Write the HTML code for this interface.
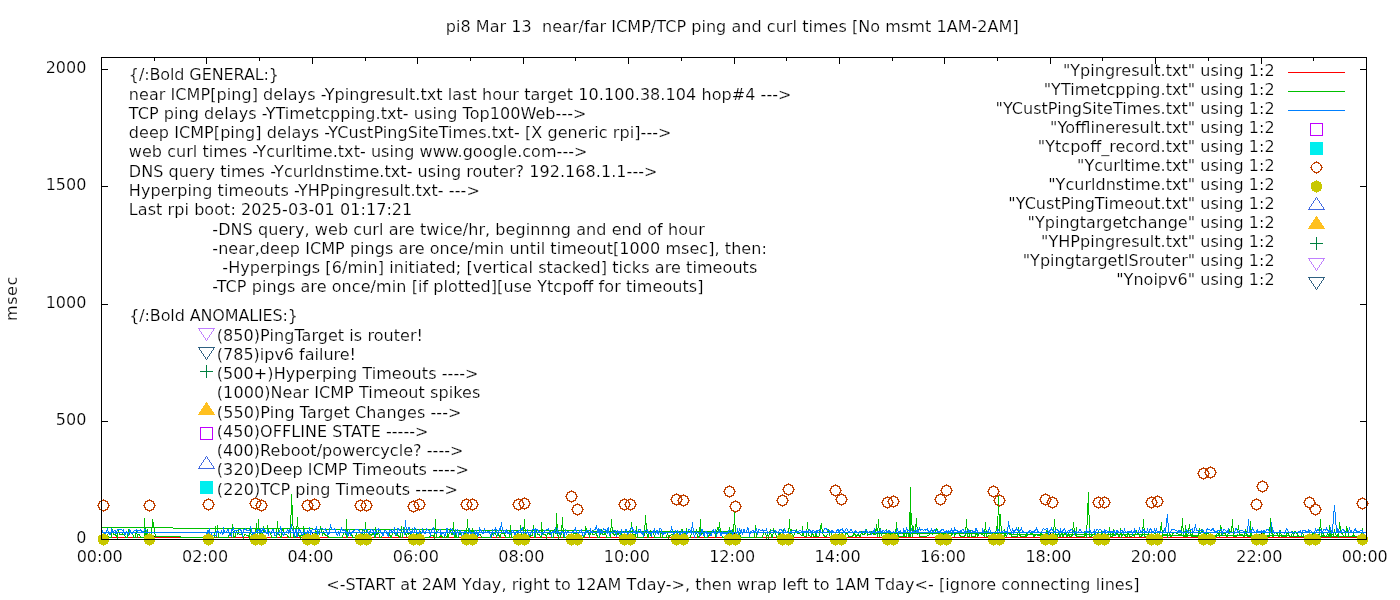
<!DOCTYPE html><html><head><meta charset="utf-8"><title>pi8 plot</title>
<style>html,body{margin:0;padding:0;background:#fff;overflow:hidden}svg{display:block}text{font-family:"DejaVu Sans","Liberation Sans",sans-serif;font-size:16px;white-space:pre;fill:#000;stroke:#fff;stroke-width:0.2px;paint-order:fill stroke}</style></head><body>
<svg width="1400" height="600" viewBox="0 0 1400 600">
<rect width="1400" height="600" fill="#fff"/>
<g id="ticks" stroke="#000" stroke-width="1" fill="none" shape-rendering="crispEdges">
<path d="M101 421.5h7M1366 421.5h-6"/>
<path d="M101 304.5h7M1366 304.5h-6"/>
<path d="M101 186.5h7M1366 186.5h-6"/>
<path d="M101 69.5h7M1366 69.5h-6"/>
<path d="M154.5 57v4 M154.5 539v-3"/>
<path d="M206.5 57v7 M206.5 539v-6"/>
<path d="M259.5 57v4 M259.5 539v-3"/>
<path d="M312.5 57v7 M312.5 539v-6"/>
<path d="M365.5 57v4 M365.5 539v-3"/>
<path d="M417.5 57v7 M417.5 539v-6"/>
<path d="M470.5 57v4 M470.5 539v-3"/>
<path d="M523.5 57v7 M523.5 539v-6"/>
<path d="M575.5 57v4 M575.5 539v-3"/>
<path d="M628.5 57v7 M628.5 539v-6"/>
<path d="M681.5 57v4 M681.5 539v-3"/>
<path d="M734.5 57v7 M734.5 539v-6"/>
<path d="M786.5 57v4 M786.5 539v-3"/>
<path d="M839.5 57v7 M839.5 539v-6"/>
<path d="M892.5 57v4 M892.5 539v-3"/>
<path d="M944.5 57v7 M944.5 539v-6"/>
<path d="M997.5 57v4 M997.5 539v-3"/>
<path d="M1050.5 57v7 M1050.5 539v-6"/>
<path d="M1102.5 57v4 M1102.5 539v-3"/>
<path d="M1155.5 57v7 M1155.5 539v-6"/>
<path d="M1208.5 57v4 M1208.5 539v-3"/>
<path d="M1261.5 57v7 M1261.5 539v-6"/>
<path d="M1313.5 57v4 M1313.5 539v-3"/>
</g>
<g id="data">
<path d="M101 537.5H1366" stroke="#ff0000" stroke-width="1" fill="none" shape-rendering="crispEdges"/>
<polyline fill="none" stroke="#00c000" stroke-width="1" shape-rendering="crispEdges" points="101.5,527.5 101.5,535.5 102.5,535.5 103.5,535.5 104.5,537.5 105.5,537.5 106.5,537.5 107.5,535.5 108.5,537.5 108.5,537.5 109.5,537.5 110.5,537.5 111.5,537.5 112.5,529.5 113.5,534.5 114.5,534.5 115.5,534.5 115.5,535.5 116.5,535.5 117.5,537.5 118.5,529.5 119.5,534.5 120.5,534.5 121.5,534.5 122.5,533.5 122.5,534.5 123.5,534.5 124.5,534.5 125.5,537.5 126.5,537.5 127.5,537.5 128.5,529.5 129.5,534.5 129.5,532.5 130.5,532.5 131.5,532.5 132.5,532.5 133.5,537.5 134.5,537.5 135.5,537.5 136.5,529.5 137.5,537.5 137.5,534.5 138.5,534.5 139.5,534.5 140.5,537.5 141.5,537.5 142.5,537.5 143.5,537.5 144.5,537.5 144.5,518.5 145.5,537.5 146.5,537.5 147.5,529.5 148.5,537.5 149.5,537.5 150.5,537.5 151.5,537.5 151.5,534.5 152.5,519.5 155.5,536.5 180.5,536.5 180.5,537.5 207.5,537.5 206.5,533.5 207.5,533.5 208.5,533.5 209.5,532.5 209.5,532.5 210.5,532.5 211.5,533.5 212.5,537.5 213.5,537.5 214.5,537.5 215.5,526.5 216.5,537.5 216.5,537.5 217.5,525.5 218.5,537.5 219.5,537.5 220.5,537.5 221.5,537.5 222.5,537.5 223.5,537.5 223.5,537.5 224.5,537.5 225.5,537.5 226.5,537.5 227.5,537.5 228.5,537.5 229.5,532.5 230.5,532.5 231.5,537.5 231.5,537.5 232.5,524.5 233.5,537.5 234.5,537.5 235.5,535.5 236.5,530.5 237.5,534.5 238.5,530.5 238.5,533.5 239.5,534.5 240.5,534.5 241.5,534.5 242.5,534.5 243.5,537.5 244.5,534.5 245.5,534.5 245.5,534.5 246.5,535.5 247.5,535.5 248.5,535.5 249.5,537.5 250.5,529.5 251.5,537.5 252.5,537.5 252.5,535.5 253.5,537.5 254.5,532.5 255.5,532.5 256.5,523.5 257.5,537.5 258.5,519.5 259.5,537.5 260.5,537.5 260.5,533.5 261.5,537.5 262.5,537.5 263.5,526.5 264.5,532.5 265.5,532.5 266.5,532.5 267.5,531.5 267.5,525.5 268.5,532.5 269.5,532.5 270.5,532.5 271.5,537.5 272.5,537.5 273.5,537.5 274.5,537.5 274.5,537.5 275.5,537.5 276.5,537.5 277.5,521.5 278.5,534.5 279.5,534.5 280.5,537.5 281.5,537.5 281.5,532.5 282.5,529.5 283.5,529.5 284.5,534.5 285.5,534.5 286.5,534.5 287.5,535.5 288.5,537.5 288.5,537.5 289.5,537.5 290.5,537.5 291.5,494.5 292.5,514.5 293.5,537.5 294.5,537.5 295.5,537.5 296.5,534.5 296.5,534.5 297.5,517.5 298.5,535.5 299.5,535.5 300.5,537.5 301.5,533.5 302.5,535.5 303.5,535.5 303.5,526.5 304.5,537.5 305.5,537.5 306.5,533.5 307.5,534.5 308.5,534.5 309.5,534.5 310.5,533.5 310.5,533.5 311.5,537.5 312.5,537.5 313.5,537.5 314.5,537.5 315.5,530.5 316.5,532.5 317.5,537.5 317.5,537.5 318.5,537.5 319.5,532.5 320.5,527.5 321.5,529.5 322.5,534.5 323.5,532.5 324.5,534.5 325.5,534.5 325.5,535.5 326.5,535.5 327.5,535.5 328.5,537.5 329.5,537.5 330.5,537.5 331.5,537.5 332.5,537.5 332.5,537.5 333.5,537.5 334.5,537.5 335.5,537.5 336.5,537.5 337.5,537.5 338.5,537.5 339.5,537.5 339.5,537.5 340.5,537.5 341.5,537.5 342.5,537.5 343.5,532.5 344.5,532.5 345.5,532.5 346.5,537.5 346.5,519.5 347.5,537.5 348.5,534.5 349.5,533.5 350.5,533.5 351.5,533.5 352.5,537.5 353.5,537.5 354.5,537.5 354.5,537.5 355.5,537.5 356.5,532.5 357.5,537.5 358.5,537.5 359.5,535.5 360.5,537.5 361.5,537.5 361.5,537.5 362.5,529.5 363.5,537.5 364.5,537.5 365.5,522.5 366.5,537.5 367.5,537.5 368.5,532.5 368.5,532.5 369.5,532.5 370.5,535.5 371.5,535.5 372.5,533.5 373.5,532.5 374.5,537.5 375.5,537.5 375.5,527.5 376.5,534.5 377.5,534.5 378.5,529.5 379.5,537.5 380.5,537.5 381.5,537.5 382.5,534.5 382.5,534.5 383.5,534.5 384.5,530.5 385.5,529.5 386.5,532.5 387.5,533.5 388.5,533.5 389.5,533.5 390.5,537.5 390.5,537.5 391.5,537.5 392.5,532.5 393.5,532.5 394.5,532.5 395.5,535.5 396.5,535.5 397.5,530.5 397.5,535.5 398.5,535.5 399.5,537.5 400.5,537.5 401.5,526.5 402.5,537.5 403.5,527.5 404.5,533.5 404.5,533.5 405.5,533.5 406.5,535.5 407.5,532.5 408.5,534.5 409.5,533.5 410.5,532.5 411.5,537.5 411.5,537.5 412.5,537.5 413.5,537.5 414.5,534.5 415.5,534.5 416.5,534.5 417.5,532.5 418.5,532.5 419.5,537.5 419.5,530.5 420.5,532.5 421.5,537.5 422.5,537.5 423.5,537.5 424.5,537.5 425.5,537.5 426.5,537.5 426.5,537.5 427.5,537.5 428.5,537.5 429.5,537.5 430.5,535.5 431.5,535.5 432.5,535.5 433.5,535.5 433.5,535.5 434.5,537.5 435.5,519.5 436.5,537.5 437.5,537.5 438.5,537.5 439.5,537.5 440.5,535.5 440.5,530.5 441.5,535.5 442.5,537.5 443.5,537.5 444.5,537.5 445.5,534.5 446.5,537.5 447.5,537.5 447.5,530.5 448.5,537.5 449.5,530.5 450.5,530.5 451.5,534.5 452.5,534.5 453.5,522.5 454.5,537.5 455.5,537.5 455.5,533.5 456.5,537.5 457.5,537.5 458.5,537.5 459.5,532.5 460.5,534.5 461.5,534.5 462.5,537.5 462.5,537.5 463.5,537.5 464.5,534.5 465.5,532.5 466.5,537.5 467.5,519.5 468.5,535.5 469.5,535.5 469.5,537.5 470.5,537.5 471.5,531.5 472.5,529.5 473.5,533.5 474.5,533.5 475.5,533.5 476.5,537.5 476.5,537.5 477.5,537.5 478.5,534.5 479.5,534.5 480.5,534.5 481.5,537.5 482.5,537.5 483.5,537.5 484.5,537.5 484.5,537.5 485.5,537.5 486.5,537.5 487.5,537.5 488.5,537.5 489.5,537.5 490.5,537.5 491.5,532.5 491.5,537.5 492.5,532.5 493.5,533.5 494.5,533.5 495.5,531.5 496.5,537.5 497.5,533.5 498.5,533.5 498.5,533.5 499.5,537.5 500.5,537.5 501.5,531.5 502.5,533.5 503.5,533.5 504.5,533.5 505.5,537.5 505.5,537.5 506.5,537.5 507.5,537.5 508.5,537.5 509.5,537.5 510.5,525.5 511.5,537.5 512.5,537.5 513.5,537.5 513.5,537.5 514.5,535.5 515.5,534.5 516.5,534.5 517.5,534.5 518.5,532.5 519.5,532.5 520.5,532.5 520.5,525.5 521.5,537.5 522.5,534.5 523.5,534.5 524.5,519.5 525.5,537.5 526.5,534.5 527.5,537.5 527.5,537.5 528.5,537.5 529.5,537.5 530.5,535.5 531.5,535.5 532.5,535.5 533.5,525.5 534.5,532.5 534.5,537.5 535.5,537.5 536.5,529.5 537.5,534.5 538.5,534.5 539.5,534.5 540.5,537.5 541.5,537.5 541.5,522.5 542.5,534.5 543.5,534.5 544.5,534.5 545.5,534.5 546.5,537.5 547.5,533.5 548.5,533.5 549.5,533.5 549.5,534.5 550.5,532.5 551.5,537.5 552.5,537.5 553.5,537.5 554.5,529.5 555.5,533.5 556.5,533.5 556.5,513.5 557.5,534.5 558.5,537.5 559.5,532.5 560.5,537.5 561.5,532.5 562.5,517.5 563.5,537.5 563.5,537.5 564.5,537.5 565.5,537.5 566.5,537.5 567.5,537.5 568.5,534.5 569.5,534.5 570.5,534.5 570.5,537.5 571.5,537.5 572.5,537.5 573.5,533.5 574.5,533.5 575.5,533.5 576.5,533.5 577.5,533.5 578.5,537.5 578.5,537.5 579.5,535.5 580.5,535.5 581.5,537.5 582.5,537.5 583.5,537.5 584.5,535.5 585.5,533.5 585.5,526.5 586.5,529.5 587.5,532.5 588.5,532.5 589.5,537.5 590.5,532.5 591.5,532.5 592.5,530.5 592.5,534.5 593.5,534.5 594.5,534.5 595.5,533.5 596.5,533.5 597.5,537.5 598.5,537.5 599.5,537.5 599.5,537.5 600.5,532.5 601.5,530.5 602.5,534.5 603.5,534.5 604.5,534.5 605.5,531.5 606.5,537.5 607.5,537.5 607.5,537.5 608.5,537.5 609.5,537.5 610.5,537.5 611.5,519.5 612.5,533.5 613.5,533.5 614.5,535.5 614.5,534.5 615.5,534.5 616.5,534.5 617.5,534.5 618.5,532.5 619.5,537.5 620.5,537.5 621.5,529.5 621.5,534.5 622.5,534.5 623.5,537.5 624.5,537.5 625.5,537.5 626.5,537.5 627.5,534.5 628.5,537.5 628.5,537.5 629.5,534.5 630.5,534.5 631.5,522.5 632.5,534.5 633.5,534.5 634.5,534.5 635.5,537.5 635.5,537.5 636.5,526.5 637.5,537.5 638.5,537.5 639.5,537.5 640.5,537.5 641.5,537.5 642.5,537.5 643.5,537.5 643.5,535.5 644.5,535.5 645.5,515.5 646.5,530.5 647.5,537.5 648.5,537.5 649.5,531.5 650.5,530.5 650.5,535.5 651.5,532.5 652.5,532.5 653.5,532.5 654.5,537.5 655.5,537.5 656.5,537.5 657.5,537.5 657.5,537.5 658.5,537.5 659.5,537.5 660.5,537.5 661.5,529.5 662.5,537.5 663.5,537.5 664.5,537.5 664.5,537.5 665.5,537.5 666.5,537.5 667.5,532.5 668.5,537.5 669.5,535.5 670.5,535.5 671.5,534.5 672.5,534.5 672.5,537.5 673.5,537.5 674.5,534.5 675.5,534.5 676.5,534.5 677.5,532.5 678.5,537.5 679.5,537.5 679.5,537.5 680.5,537.5 681.5,529.5 682.5,529.5 683.5,532.5 684.5,534.5 685.5,537.5 686.5,528.5 686.5,534.5 687.5,537.5 688.5,537.5 689.5,537.5 690.5,537.5 691.5,532.5 692.5,532.5 693.5,533.5 693.5,532.5 694.5,532.5 695.5,532.5 696.5,529.5 697.5,537.5 698.5,537.5 699.5,535.5 700.5,519.5 700.5,535.5 701.5,533.5 702.5,533.5 703.5,533.5 704.5,537.5 705.5,537.5 706.5,537.5 707.5,537.5 708.5,535.5 708.5,535.5 709.5,535.5 710.5,532.5 711.5,531.5 712.5,532.5 713.5,532.5 714.5,532.5 715.5,532.5 715.5,537.5 716.5,532.5 717.5,527.5 718.5,532.5 719.5,522.5 720.5,532.5 721.5,534.5 722.5,537.5 722.5,537.5 723.5,537.5 724.5,537.5 725.5,537.5 726.5,537.5 727.5,537.5 728.5,537.5 729.5,527.5 729.5,532.5 730.5,533.5 731.5,537.5 732.5,529.5 733.5,537.5 734.5,511.5 735.5,537.5 736.5,532.5 737.5,532.5 737.5,532.5 738.5,532.5 739.5,532.5 740.5,537.5 741.5,537.5 742.5,537.5 743.5,537.5 744.5,537.5 744.5,537.5 745.5,537.5 746.5,537.5 747.5,537.5 748.5,537.5 749.5,537.5 750.5,537.5 751.5,537.5 751.5,537.5 752.5,537.5 753.5,537.5 754.5,537.5 755.5,525.5 756.5,537.5 757.5,537.5 758.5,537.5 758.5,537.5 759.5,537.5 760.5,537.5 761.5,537.5 762.5,537.5 763.5,532.5 764.5,532.5 765.5,532.5 766.5,537.5 766.5,537.5 767.5,534.5 768.5,537.5 769.5,532.5 770.5,530.5 771.5,537.5 772.5,537.5 773.5,531.5 773.5,528.5 774.5,532.5 775.5,532.5 776.5,537.5 777.5,537.5 778.5,534.5 779.5,534.5 780.5,532.5 780.5,534.5 781.5,534.5 782.5,534.5 783.5,529.5 784.5,537.5 785.5,537.5 786.5,537.5 787.5,537.5 787.5,537.5 788.5,537.5 789.5,519.5 790.5,537.5 791.5,529.5 792.5,537.5 793.5,537.5 794.5,532.5 794.5,532.5 795.5,532.5 796.5,530.5 797.5,533.5 798.5,533.5 799.5,533.5 800.5,534.5 801.5,535.5 802.5,535.5 802.5,526.5 803.5,535.5 804.5,536.5 805.5,536.5 806.5,536.5 807.5,522.5 808.5,535.5 809.5,535.5 809.5,535.5 810.5,536.5 811.5,536.5 812.5,532.5 813.5,536.5 814.5,536.5 815.5,536.5 816.5,530.5 816.5,536.5 817.5,536.5 818.5,536.5 819.5,535.5 820.5,526.5 821.5,524.5 822.5,533.5 823.5,534.5 823.5,534.5 824.5,536.5 825.5,536.5 826.5,536.5 827.5,533.5 828.5,529.5 829.5,534.5 830.5,531.5 831.5,532.5 831.5,536.5 832.5,536.5 833.5,536.5 834.5,536.5 835.5,536.5 836.5,536.5 837.5,536.5 838.5,536.5 838.5,536.5 839.5,532.5 840.5,536.5 841.5,533.5 842.5,533.5 843.5,534.5 844.5,536.5 845.5,536.5 845.5,533.5 846.5,533.5 847.5,533.5 848.5,536.5 849.5,536.5 850.5,536.5 851.5,536.5 852.5,536.5 852.5,536.5 853.5,534.5 854.5,532.5 855.5,536.5 856.5,536.5 857.5,534.5 858.5,534.5 859.5,536.5 860.5,536.5 860.5,536.5 861.5,532.5 862.5,534.5 863.5,534.5 864.5,534.5 865.5,532.5 866.5,529.5 867.5,535.5 867.5,535.5 868.5,534.5 869.5,534.5 870.5,534.5 871.5,531.5 872.5,531.5 873.5,534.5 874.5,534.5 874.5,534.5 875.5,534.5 876.5,524.5 877.5,536.5 878.5,519.5 879.5,536.5 880.5,528.5 881.5,535.5 881.5,534.5 882.5,531.5 883.5,532.5 884.5,533.5 885.5,534.5 886.5,529.5 887.5,533.5 888.5,532.5 888.5,536.5 889.5,532.5 890.5,532.5 891.5,536.5 892.5,536.5 893.5,532.5 894.5,536.5 895.5,536.5 896.5,522.5 896.5,532.5 897.5,532.5 898.5,536.5 899.5,536.5 900.5,536.5 901.5,536.5 902.5,536.5 903.5,536.5 903.5,530.5 904.5,536.5 905.5,536.5 906.5,536.5 907.5,530.5 908.5,536.5 909.5,536.5 910.5,487.5 910.5,536.5 911.5,513.5 912.5,536.5 913.5,526.5 914.5,533.5 915.5,529.5 916.5,518.5 917.5,534.5 917.5,527.5 918.5,530.5 919.5,536.5 920.5,536.5 921.5,536.5 922.5,536.5 923.5,536.5 924.5,536.5 925.5,536.5 925.5,536.5 926.5,536.5 927.5,535.5 928.5,535.5 929.5,534.5 930.5,533.5 931.5,533.5 932.5,530.5 932.5,534.5 933.5,532.5 934.5,532.5 935.5,532.5 936.5,528.5 937.5,529.5 938.5,532.5 939.5,534.5 939.5,534.5 940.5,535.5 941.5,536.5 942.5,536.5 943.5,536.5 944.5,532.5 945.5,533.5 946.5,535.5 946.5,535.5 947.5,535.5 948.5,536.5 949.5,536.5 950.5,536.5 951.5,534.5 952.5,534.5 953.5,532.5 953.5,532.5 954.5,535.5 955.5,533.5 956.5,533.5 957.5,533.5 958.5,533.5 959.5,534.5 960.5,536.5 961.5,536.5 961.5,536.5 962.5,536.5 963.5,536.5 964.5,536.5 965.5,534.5 966.5,519.5 967.5,536.5 968.5,536.5 968.5,536.5 969.5,536.5 970.5,530.5 971.5,536.5 972.5,536.5 973.5,536.5 974.5,536.5 975.5,536.5 975.5,532.5 976.5,532.5 977.5,536.5 978.5,535.5 979.5,532.5 980.5,532.5 981.5,534.5 982.5,534.5 982.5,534.5 983.5,535.5 984.5,536.5 985.5,522.5 986.5,536.5 987.5,536.5 988.5,535.5 989.5,535.5 990.5,535.5 990.5,536.5 991.5,536.5 992.5,533.5 993.5,536.5 994.5,536.5 995.5,536.5 996.5,526.5 997.5,535.5 997.5,536.5 998.5,495.5 999.5,530.5 1000.5,514.5 1001.5,536.5 1002.5,536.5 1003.5,536.5 1004.5,536.5 1004.5,529.5 1005.5,535.5 1006.5,536.5 1007.5,533.5 1008.5,533.5 1009.5,533.5 1010.5,533.5 1011.5,533.5 1011.5,536.5 1012.5,536.5 1013.5,536.5 1014.5,536.5 1015.5,536.5 1016.5,536.5 1017.5,536.5 1018.5,527.5 1019.5,535.5 1019.5,534.5 1020.5,536.5 1021.5,536.5 1022.5,536.5 1023.5,536.5 1024.5,536.5 1025.5,536.5 1026.5,532.5 1026.5,536.5 1027.5,534.5 1028.5,534.5 1029.5,534.5 1030.5,533.5 1031.5,533.5 1032.5,533.5 1033.5,536.5 1033.5,536.5 1034.5,536.5 1035.5,534.5 1036.5,534.5 1037.5,535.5 1038.5,535.5 1039.5,535.5 1040.5,535.5 1040.5,533.5 1041.5,533.5 1042.5,536.5 1043.5,536.5 1044.5,536.5 1045.5,536.5 1046.5,532.5 1047.5,528.5 1047.5,534.5 1048.5,534.5 1049.5,536.5 1050.5,536.5 1051.5,536.5 1052.5,534.5 1053.5,534.5 1054.5,519.5 1055.5,534.5 1055.5,536.5 1056.5,536.5 1057.5,536.5 1058.5,532.5 1059.5,536.5 1060.5,536.5 1061.5,533.5 1062.5,533.5 1062.5,536.5 1063.5,536.5 1064.5,533.5 1065.5,532.5 1066.5,536.5 1067.5,536.5 1068.5,534.5 1069.5,536.5 1069.5,536.5 1070.5,536.5 1071.5,536.5 1072.5,534.5 1073.5,522.5 1074.5,532.5 1075.5,534.5 1076.5,527.5 1076.5,536.5 1077.5,536.5 1078.5,536.5 1079.5,536.5 1080.5,536.5 1081.5,536.5 1082.5,536.5 1083.5,536.5 1084.5,536.5 1084.5,531.5 1085.5,534.5 1086.5,536.5 1087.5,513.5 1088.5,492.5 1089.5,536.5 1090.5,536.5 1091.5,536.5 1091.5,536.5 1092.5,534.5 1093.5,534.5 1094.5,534.5 1095.5,532.5 1096.5,532.5 1097.5,532.5 1098.5,536.5 1098.5,531.5 1099.5,536.5 1100.5,536.5 1101.5,531.5 1102.5,534.5 1103.5,534.5 1104.5,536.5 1105.5,536.5 1105.5,536.5 1106.5,534.5 1107.5,534.5 1108.5,534.5 1109.5,527.5 1110.5,536.5 1111.5,536.5 1112.5,536.5 1113.5,529.5 1113.5,535.5 1114.5,535.5 1115.5,535.5 1116.5,532.5 1117.5,532.5 1118.5,536.5 1119.5,536.5 1120.5,532.5 1120.5,528.5 1121.5,536.5 1122.5,534.5 1123.5,534.5 1124.5,534.5 1125.5,536.5 1126.5,536.5 1127.5,536.5 1127.5,533.5 1128.5,532.5 1129.5,536.5 1130.5,536.5 1131.5,536.5 1132.5,535.5 1133.5,535.5 1134.5,535.5 1134.5,536.5 1135.5,531.5 1136.5,530.5 1137.5,533.5 1138.5,530.5 1139.5,536.5 1140.5,536.5 1141.5,536.5 1141.5,535.5 1142.5,535.5 1143.5,519.5 1144.5,536.5 1145.5,536.5 1146.5,536.5 1147.5,536.5 1148.5,533.5 1149.5,536.5 1149.5,536.5 1150.5,536.5 1151.5,536.5 1152.5,536.5 1153.5,536.5 1154.5,532.5 1155.5,531.5 1156.5,536.5 1156.5,536.5 1157.5,534.5 1158.5,536.5 1159.5,536.5 1160.5,529.5 1161.5,522.5 1162.5,536.5 1163.5,534.5 1163.5,534.5 1164.5,534.5 1165.5,534.5 1166.5,534.5 1167.5,536.5 1168.5,530.5 1169.5,534.5 1170.5,534.5 1170.5,536.5 1171.5,536.5 1172.5,534.5 1173.5,532.5 1174.5,532.5 1175.5,532.5 1176.5,533.5 1177.5,533.5 1178.5,534.5 1178.5,534.5 1179.5,534.5 1180.5,534.5 1181.5,534.5 1182.5,518.5 1183.5,536.5 1184.5,536.5 1185.5,536.5 1185.5,525.5 1186.5,536.5 1187.5,536.5 1188.5,532.5 1189.5,524.5 1190.5,532.5 1191.5,536.5 1192.5,532.5 1192.5,536.5 1193.5,536.5 1194.5,536.5 1195.5,536.5 1196.5,536.5 1197.5,536.5 1198.5,534.5 1199.5,528.5 1199.5,533.5 1200.5,533.5 1201.5,530.5 1202.5,532.5 1203.5,532.5 1204.5,532.5 1205.5,536.5 1206.5,536.5 1206.5,531.5 1207.5,533.5 1208.5,533.5 1209.5,534.5 1210.5,534.5 1211.5,536.5 1212.5,536.5 1213.5,536.5 1214.5,536.5 1214.5,536.5 1215.5,536.5 1216.5,536.5 1217.5,531.5 1218.5,532.5 1219.5,536.5 1220.5,526.5 1221.5,528.5 1221.5,534.5 1222.5,534.5 1223.5,532.5 1224.5,533.5 1225.5,533.5 1226.5,536.5 1227.5,536.5 1228.5,532.5 1228.5,532.5 1229.5,530.5 1230.5,532.5 1231.5,532.5 1232.5,519.5 1233.5,536.5 1234.5,536.5 1235.5,536.5 1235.5,536.5 1236.5,536.5 1237.5,533.5 1238.5,525.5 1239.5,534.5 1240.5,534.5 1241.5,534.5 1242.5,534.5 1243.5,536.5 1243.5,536.5 1244.5,536.5 1245.5,529.5 1246.5,532.5 1247.5,536.5 1248.5,536.5 1249.5,536.5 1250.5,536.5 1250.5,521.5 1251.5,536.5 1252.5,536.5 1253.5,536.5 1254.5,536.5 1255.5,536.5 1256.5,536.5 1257.5,536.5 1257.5,536.5 1258.5,534.5 1259.5,534.5 1260.5,534.5 1261.5,534.5 1262.5,536.5 1263.5,531.5 1264.5,534.5 1264.5,534.5 1265.5,536.5 1266.5,536.5 1267.5,536.5 1268.5,536.5 1269.5,536.5 1270.5,518.5 1271.5,533.5 1272.5,533.5 1272.5,536.5 1273.5,536.5 1274.5,532.5 1275.5,532.5 1276.5,532.5 1277.5,534.5 1278.5,536.5 1279.5,536.5 1279.5,536.5 1280.5,530.5 1281.5,536.5 1282.5,536.5 1283.5,536.5 1284.5,536.5 1285.5,536.5 1286.5,536.5 1286.5,533.5 1287.5,533.5 1288.5,533.5 1289.5,536.5 1290.5,536.5 1291.5,536.5 1292.5,531.5 1293.5,536.5 1293.5,536.5 1294.5,531.5 1295.5,531.5 1296.5,532.5 1297.5,534.5 1298.5,536.5 1299.5,536.5 1300.5,536.5 1300.5,536.5 1301.5,536.5 1302.5,532.5 1303.5,535.5 1304.5,536.5 1305.5,536.5 1306.5,536.5 1307.5,534.5 1308.5,534.5 1308.5,534.5 1309.5,534.5 1310.5,534.5 1311.5,534.5 1312.5,534.5 1313.5,532.5 1314.5,532.5 1315.5,532.5 1315.5,535.5 1316.5,534.5 1317.5,534.5 1318.5,534.5 1319.5,534.5 1320.5,519.5 1321.5,535.5 1322.5,535.5 1322.5,536.5 1323.5,534.5 1324.5,536.5 1325.5,536.5 1326.5,536.5 1327.5,533.5 1328.5,535.5 1329.5,535.5 1329.5,525.5 1330.5,536.5 1331.5,534.5 1332.5,534.5 1333.5,535.5 1334.5,530.5 1335.5,533.5 1336.5,536.5 1337.5,536.5 1337.5,534.5 1338.5,536.5 1339.5,522.5 1340.5,529.5 1341.5,533.5 1342.5,533.5 1343.5,536.5 1344.5,536.5 1344.5,536.5 1345.5,536.5 1346.5,526.5 1347.5,529.5 1348.5,536.5 1349.5,536.5 1350.5,536.5 1351.5,536.5 1351.5,536.5 1352.5,536.5 1353.5,534.5 1354.5,536.5 1355.5,536.5 1356.5,536.5 1357.5,536.5 1358.5,536.5 1358.5,536.5 1359.5,536.5 1360.5,536.5 1361.5,536.5 1362.5,528.5 1363.5,536.5 1364.5,536.5 1366.5,536.5"/>
<path d="M155 536.5H180" stroke="#00c000" stroke-width="1" fill="none" shape-rendering="crispEdges"/>
<line x1="101" y1="527.49" x2="1366" y2="536.56" stroke="#00c000" stroke-width="1" shape-rendering="crispEdges"/>
<polyline fill="none" stroke="#0080ff" stroke-width="1" shape-rendering="crispEdges" points="101.5,532.5 101.5,528.5 102.5,532.5 103.5,532.5 104.5,534.5 105.5,532.5 106.5,531.5 107.5,529.5 108.5,532.5 108.5,532.5 109.5,534.5 110.5,534.5 111.5,529.5 112.5,531.5 113.5,531.5 114.5,530.5 115.5,530.5 115.5,533.5 116.5,533.5 117.5,529.5 118.5,529.5 119.5,529.5 120.5,529.5 121.5,529.5 122.5,530.5 122.5,530.5 123.5,529.5 124.5,534.5 125.5,534.5 126.5,531.5 127.5,532.5 128.5,534.5 129.5,529.5 129.5,530.5 130.5,530.5 131.5,533.5 132.5,533.5 133.5,531.5 134.5,530.5 135.5,530.5 136.5,529.5 137.5,531.5 137.5,531.5 138.5,530.5 139.5,530.5 140.5,529.5 141.5,531.5 142.5,531.5 143.5,532.5 144.5,529.5 144.5,529.5 145.5,529.5 147.5,532.5 207.5,532.5 206.5,536.5 207.5,530.5 208.5,531.5 209.5,528.5 209.5,532.5 210.5,535.5 211.5,533.5 212.5,536.5 213.5,535.5 214.5,535.5 215.5,535.5 216.5,535.5 216.5,532.5 217.5,530.5 218.5,531.5 219.5,532.5 220.5,533.5 221.5,531.5 222.5,534.5 223.5,533.5 223.5,527.5 224.5,532.5 225.5,532.5 226.5,532.5 227.5,529.5 228.5,529.5 229.5,535.5 230.5,535.5 231.5,536.5 231.5,529.5 232.5,530.5 233.5,528.5 234.5,531.5 235.5,530.5 236.5,530.5 237.5,530.5 238.5,529.5 238.5,529.5 239.5,529.5 240.5,529.5 241.5,531.5 242.5,536.5 243.5,529.5 244.5,529.5 245.5,529.5 245.5,528.5 246.5,530.5 247.5,530.5 248.5,530.5 249.5,530.5 250.5,527.5 251.5,529.5 252.5,535.5 252.5,535.5 253.5,532.5 254.5,533.5 255.5,533.5 256.5,531.5 257.5,529.5 258.5,529.5 259.5,531.5 260.5,531.5 260.5,528.5 261.5,532.5 262.5,528.5 263.5,528.5 264.5,530.5 265.5,530.5 266.5,533.5 267.5,533.5 267.5,529.5 268.5,534.5 269.5,531.5 270.5,532.5 271.5,533.5 272.5,529.5 273.5,529.5 274.5,535.5 274.5,535.5 275.5,535.5 276.5,534.5 277.5,534.5 278.5,532.5 279.5,532.5 280.5,527.5 281.5,529.5 281.5,529.5 282.5,534.5 283.5,535.5 284.5,533.5 285.5,532.5 286.5,532.5 287.5,529.5 288.5,530.5 288.5,533.5 289.5,529.5 290.5,530.5 291.5,524.5 292.5,530.5 293.5,530.5 294.5,536.5 295.5,529.5 296.5,529.5 296.5,536.5 297.5,536.5 298.5,529.5 299.5,529.5 300.5,531.5 301.5,534.5 302.5,534.5 303.5,535.5 303.5,535.5 304.5,529.5 305.5,535.5 306.5,535.5 307.5,530.5 308.5,534.5 309.5,527.5 310.5,532.5 310.5,535.5 311.5,530.5 312.5,529.5 313.5,529.5 314.5,529.5 315.5,529.5 316.5,527.5 317.5,531.5 317.5,535.5 318.5,532.5 319.5,529.5 320.5,529.5 321.5,528.5 322.5,528.5 323.5,529.5 324.5,529.5 325.5,528.5 325.5,530.5 326.5,530.5 327.5,534.5 328.5,534.5 329.5,532.5 330.5,524.5 331.5,529.5 332.5,529.5 332.5,529.5 333.5,529.5 334.5,528.5 335.5,530.5 336.5,534.5 337.5,535.5 338.5,532.5 339.5,534.5 339.5,534.5 340.5,530.5 341.5,528.5 342.5,530.5 343.5,530.5 344.5,529.5 345.5,531.5 346.5,531.5 346.5,531.5 347.5,535.5 348.5,535.5 349.5,529.5 350.5,535.5 351.5,532.5 352.5,532.5 353.5,530.5 354.5,530.5 354.5,530.5 355.5,529.5 356.5,529.5 357.5,529.5 358.5,529.5 359.5,531.5 360.5,532.5 361.5,535.5 361.5,532.5 362.5,532.5 363.5,529.5 364.5,529.5 365.5,529.5 366.5,529.5 367.5,530.5 368.5,535.5 368.5,535.5 369.5,533.5 370.5,529.5 371.5,529.5 372.5,530.5 373.5,529.5 374.5,534.5 375.5,532.5 375.5,532.5 376.5,529.5 377.5,529.5 378.5,528.5 379.5,530.5 380.5,530.5 381.5,533.5 382.5,533.5 382.5,535.5 383.5,535.5 384.5,530.5 385.5,530.5 386.5,531.5 387.5,535.5 388.5,536.5 389.5,530.5 390.5,529.5 390.5,529.5 391.5,531.5 392.5,531.5 393.5,530.5 394.5,528.5 395.5,534.5 396.5,534.5 397.5,529.5 397.5,528.5 398.5,528.5 399.5,530.5 400.5,530.5 401.5,529.5 402.5,529.5 403.5,530.5 404.5,530.5 404.5,534.5 405.5,520.5 406.5,532.5 407.5,532.5 408.5,527.5 409.5,527.5 410.5,533.5 411.5,533.5 411.5,533.5 412.5,528.5 413.5,536.5 414.5,527.5 415.5,528.5 416.5,529.5 417.5,535.5 418.5,535.5 419.5,529.5 419.5,534.5 420.5,536.5 421.5,535.5 422.5,529.5 423.5,531.5 424.5,533.5 425.5,533.5 426.5,528.5 426.5,529.5 427.5,529.5 428.5,530.5 429.5,530.5 430.5,536.5 431.5,529.5 432.5,528.5 433.5,528.5 433.5,527.5 434.5,531.5 435.5,533.5 436.5,533.5 437.5,531.5 438.5,530.5 439.5,529.5 440.5,529.5 440.5,534.5 441.5,534.5 442.5,532.5 443.5,532.5 444.5,535.5 445.5,535.5 446.5,528.5 447.5,528.5 447.5,531.5 448.5,532.5 449.5,532.5 450.5,528.5 451.5,529.5 452.5,529.5 453.5,534.5 454.5,534.5 455.5,529.5 455.5,530.5 456.5,533.5 457.5,530.5 458.5,534.5 459.5,531.5 460.5,530.5 461.5,535.5 462.5,535.5 462.5,535.5 463.5,535.5 464.5,531.5 465.5,531.5 466.5,532.5 467.5,532.5 468.5,534.5 469.5,529.5 469.5,528.5 470.5,533.5 471.5,533.5 472.5,532.5 473.5,534.5 474.5,530.5 475.5,535.5 476.5,532.5 476.5,530.5 477.5,535.5 478.5,535.5 479.5,528.5 480.5,530.5 481.5,530.5 482.5,533.5 483.5,533.5 484.5,529.5 484.5,529.5 485.5,532.5 486.5,532.5 487.5,531.5 488.5,531.5 489.5,531.5 490.5,536.5 491.5,533.5 491.5,533.5 492.5,530.5 493.5,534.5 494.5,531.5 495.5,527.5 496.5,531.5 497.5,534.5 498.5,531.5 498.5,532.5 499.5,528.5 500.5,529.5 501.5,522.5 502.5,530.5 503.5,531.5 504.5,530.5 505.5,530.5 505.5,533.5 506.5,529.5 507.5,533.5 508.5,533.5 509.5,533.5 510.5,534.5 511.5,530.5 512.5,530.5 513.5,530.5 513.5,530.5 514.5,535.5 515.5,535.5 516.5,531.5 517.5,532.5 518.5,530.5 519.5,530.5 520.5,529.5 520.5,531.5 521.5,528.5 522.5,527.5 523.5,534.5 524.5,534.5 525.5,535.5 526.5,535.5 527.5,529.5 527.5,529.5 528.5,535.5 529.5,535.5 530.5,533.5 531.5,530.5 532.5,529.5 533.5,529.5 534.5,529.5 534.5,535.5 535.5,528.5 536.5,529.5 537.5,529.5 538.5,531.5 539.5,531.5 540.5,532.5 541.5,532.5 541.5,534.5 542.5,534.5 543.5,533.5 544.5,530.5 545.5,530.5 546.5,529.5 547.5,529.5 548.5,528.5 549.5,531.5 549.5,531.5 550.5,532.5 551.5,535.5 552.5,531.5 553.5,531.5 554.5,532.5 555.5,527.5 556.5,533.5 556.5,532.5 557.5,529.5 558.5,533.5 559.5,534.5 560.5,534.5 561.5,531.5 562.5,531.5 563.5,532.5 563.5,532.5 564.5,535.5 565.5,530.5 566.5,533.5 567.5,531.5 568.5,531.5 569.5,532.5 570.5,532.5 570.5,532.5 571.5,532.5 572.5,531.5 573.5,531.5 574.5,530.5 575.5,528.5 576.5,532.5 577.5,532.5 578.5,533.5 578.5,533.5 579.5,530.5 580.5,530.5 581.5,529.5 582.5,535.5 583.5,535.5 584.5,534.5 585.5,532.5 585.5,532.5 586.5,530.5 587.5,530.5 588.5,530.5 589.5,534.5 590.5,529.5 591.5,532.5 592.5,532.5 592.5,531.5 593.5,530.5 594.5,529.5 595.5,529.5 596.5,525.5 597.5,532.5 598.5,528.5 599.5,535.5 599.5,529.5 600.5,529.5 601.5,533.5 602.5,532.5 603.5,528.5 604.5,529.5 605.5,529.5 606.5,531.5 607.5,533.5 607.5,528.5 608.5,527.5 609.5,535.5 610.5,532.5 611.5,532.5 612.5,531.5 613.5,530.5 614.5,530.5 614.5,530.5 615.5,530.5 616.5,536.5 617.5,530.5 618.5,531.5 619.5,531.5 620.5,536.5 621.5,529.5 621.5,529.5 622.5,532.5 623.5,532.5 624.5,532.5 625.5,529.5 626.5,529.5 627.5,534.5 628.5,534.5 628.5,534.5 629.5,530.5 630.5,530.5 631.5,527.5 632.5,527.5 633.5,531.5 634.5,531.5 635.5,533.5 635.5,530.5 636.5,533.5 637.5,533.5 638.5,529.5 639.5,529.5 640.5,529.5 641.5,533.5 642.5,533.5 643.5,536.5 643.5,534.5 644.5,530.5 645.5,530.5 646.5,530.5 647.5,529.5 648.5,533.5 649.5,533.5 650.5,532.5 650.5,532.5 651.5,535.5 652.5,531.5 653.5,532.5 654.5,528.5 655.5,534.5 656.5,530.5 657.5,530.5 657.5,533.5 658.5,534.5 659.5,528.5 660.5,528.5 661.5,529.5 662.5,534.5 663.5,534.5 664.5,532.5 664.5,533.5 665.5,533.5 666.5,532.5 667.5,532.5 668.5,532.5 669.5,532.5 670.5,532.5 671.5,527.5 672.5,530.5 672.5,530.5 673.5,534.5 674.5,533.5 675.5,531.5 676.5,534.5 677.5,530.5 678.5,531.5 679.5,534.5 679.5,534.5 680.5,534.5 681.5,530.5 682.5,535.5 683.5,531.5 684.5,531.5 685.5,531.5 686.5,534.5 686.5,534.5 687.5,532.5 688.5,529.5 689.5,529.5 690.5,530.5 691.5,532.5 692.5,522.5 693.5,533.5 693.5,533.5 694.5,536.5 695.5,533.5 696.5,531.5 697.5,532.5 698.5,532.5 699.5,535.5 700.5,535.5 700.5,535.5 701.5,529.5 702.5,529.5 703.5,535.5 704.5,535.5 705.5,531.5 706.5,531.5 707.5,535.5 708.5,532.5 708.5,532.5 709.5,532.5 710.5,535.5 711.5,535.5 712.5,530.5 713.5,529.5 714.5,532.5 715.5,529.5 715.5,532.5 716.5,535.5 717.5,532.5 718.5,532.5 719.5,529.5 720.5,535.5 721.5,535.5 722.5,531.5 722.5,533.5 723.5,533.5 724.5,533.5 725.5,532.5 726.5,534.5 727.5,534.5 728.5,530.5 729.5,530.5 729.5,530.5 730.5,530.5 731.5,530.5 732.5,535.5 733.5,533.5 734.5,535.5 735.5,535.5 736.5,536.5 737.5,530.5 737.5,528.5 738.5,534.5 739.5,528.5 740.5,532.5 741.5,530.5 742.5,534.5 743.5,529.5 744.5,529.5 744.5,532.5 745.5,532.5 746.5,532.5 747.5,527.5 748.5,528.5 749.5,536.5 750.5,531.5 751.5,531.5 751.5,531.5 752.5,530.5 753.5,530.5 754.5,532.5 755.5,532.5 756.5,528.5 757.5,533.5 758.5,530.5 758.5,529.5 759.5,529.5 760.5,530.5 761.5,530.5 762.5,529.5 763.5,531.5 764.5,530.5 765.5,530.5 766.5,529.5 766.5,528.5 767.5,533.5 768.5,532.5 769.5,532.5 770.5,531.5 771.5,530.5 772.5,530.5 773.5,531.5 773.5,531.5 774.5,530.5 775.5,530.5 776.5,532.5 777.5,532.5 778.5,533.5 779.5,529.5 780.5,529.5 780.5,529.5 781.5,529.5 782.5,531.5 783.5,533.5 784.5,528.5 785.5,532.5 786.5,532.5 787.5,531.5 787.5,532.5 788.5,532.5 789.5,533.5 790.5,531.5 791.5,531.5 792.5,530.5 793.5,530.5 794.5,530.5 794.5,530.5 795.5,530.5 796.5,531.5 797.5,531.5 798.5,531.5 799.5,530.5 800.5,530.5 801.5,531.5 802.5,531.5 802.5,530.5 803.5,531.5 804.5,531.5 805.5,532.5 806.5,530.5 807.5,531.5 808.5,531.5 809.5,529.5 809.5,529.5 810.5,530.5 811.5,532.5 812.5,530.5 813.5,530.5 814.5,531.5 815.5,531.5 816.5,530.5 816.5,533.5 817.5,530.5 818.5,530.5 819.5,529.5 820.5,531.5 821.5,532.5 822.5,532.5 823.5,532.5 823.5,532.5 824.5,528.5 825.5,528.5 826.5,528.5 827.5,530.5 828.5,530.5 829.5,530.5 830.5,532.5 831.5,531.5 831.5,530.5 832.5,530.5 833.5,532.5 834.5,532.5 835.5,532.5 836.5,531.5 837.5,529.5 838.5,529.5 838.5,531.5 839.5,531.5 840.5,529.5 841.5,529.5 842.5,528.5 843.5,532.5 844.5,532.5 845.5,529.5 845.5,529.5 846.5,528.5 847.5,529.5 848.5,532.5 849.5,532.5 850.5,529.5 851.5,529.5 852.5,532.5 852.5,532.5 853.5,532.5 854.5,532.5 855.5,530.5 856.5,531.5 857.5,532.5 858.5,533.5 859.5,531.5 860.5,531.5 860.5,532.5 861.5,532.5 862.5,531.5 863.5,531.5 864.5,532.5 865.5,529.5 866.5,530.5 867.5,532.5 867.5,532.5 868.5,532.5 869.5,531.5 870.5,531.5 871.5,533.5 872.5,531.5 873.5,531.5 874.5,528.5 874.5,531.5 875.5,533.5 876.5,532.5 877.5,531.5 878.5,531.5 879.5,532.5 880.5,530.5 881.5,532.5 881.5,532.5 882.5,530.5 883.5,530.5 884.5,531.5 885.5,530.5 886.5,530.5 887.5,532.5 888.5,532.5 888.5,530.5 889.5,530.5 890.5,532.5 891.5,532.5 892.5,532.5 893.5,531.5 894.5,532.5 895.5,532.5 896.5,531.5 896.5,532.5 897.5,528.5 898.5,533.5 899.5,531.5 900.5,530.5 901.5,533.5 902.5,532.5 903.5,532.5 903.5,528.5 904.5,532.5 905.5,532.5 906.5,528.5 907.5,530.5 908.5,530.5 909.5,530.5 910.5,532.5 910.5,532.5 911.5,529.5 912.5,532.5 913.5,532.5 914.5,530.5 915.5,530.5 916.5,531.5 917.5,528.5 917.5,531.5 918.5,531.5 919.5,528.5 920.5,530.5 921.5,529.5 922.5,529.5 923.5,530.5 924.5,529.5 925.5,530.5 925.5,529.5 926.5,529.5 927.5,528.5 928.5,532.5 929.5,531.5 930.5,531.5 931.5,529.5 932.5,532.5 932.5,532.5 933.5,531.5 934.5,529.5 935.5,529.5 936.5,530.5 937.5,530.5 938.5,532.5 939.5,532.5 939.5,531.5 940.5,531.5 941.5,529.5 942.5,529.5 943.5,529.5 944.5,532.5 945.5,531.5 946.5,531.5 946.5,530.5 947.5,532.5 948.5,530.5 949.5,531.5 950.5,531.5 951.5,529.5 952.5,531.5 953.5,533.5 953.5,532.5 954.5,528.5 955.5,530.5 956.5,530.5 957.5,530.5 958.5,532.5 959.5,532.5 960.5,530.5 961.5,531.5 961.5,530.5 962.5,529.5 963.5,529.5 964.5,532.5 965.5,530.5 966.5,531.5 967.5,530.5 968.5,531.5 968.5,529.5 969.5,531.5 970.5,531.5 971.5,530.5 972.5,530.5 973.5,532.5 974.5,531.5 975.5,531.5 975.5,528.5 976.5,528.5 977.5,532.5 978.5,533.5 979.5,532.5 980.5,532.5 981.5,532.5 982.5,532.5 982.5,528.5 983.5,532.5 984.5,532.5 985.5,531.5 986.5,532.5 987.5,532.5 988.5,530.5 989.5,528.5 990.5,531.5 990.5,531.5 991.5,533.5 992.5,532.5 993.5,532.5 994.5,532.5 995.5,532.5 996.5,532.5 997.5,532.5 997.5,529.5 998.5,529.5 999.5,532.5 1000.5,532.5 1001.5,531.5 1002.5,531.5 1003.5,530.5 1004.5,531.5 1004.5,531.5 1005.5,531.5 1006.5,531.5 1007.5,533.5 1008.5,521.5 1009.5,528.5 1010.5,529.5 1011.5,532.5 1011.5,533.5 1012.5,528.5 1013.5,532.5 1014.5,530.5 1015.5,530.5 1016.5,528.5 1017.5,530.5 1018.5,529.5 1019.5,531.5 1019.5,531.5 1020.5,530.5 1021.5,528.5 1022.5,531.5 1023.5,531.5 1024.5,532.5 1025.5,532.5 1026.5,532.5 1026.5,532.5 1027.5,533.5 1028.5,532.5 1029.5,530.5 1030.5,530.5 1031.5,531.5 1032.5,531.5 1033.5,532.5 1033.5,532.5 1034.5,530.5 1035.5,530.5 1036.5,528.5 1037.5,530.5 1038.5,532.5 1039.5,532.5 1040.5,532.5 1040.5,532.5 1041.5,532.5 1042.5,529.5 1043.5,528.5 1044.5,529.5 1045.5,529.5 1046.5,528.5 1047.5,529.5 1047.5,528.5 1048.5,533.5 1049.5,530.5 1050.5,530.5 1051.5,528.5 1052.5,530.5 1053.5,530.5 1054.5,531.5 1055.5,531.5 1055.5,530.5 1056.5,529.5 1057.5,529.5 1058.5,531.5 1059.5,533.5 1060.5,529.5 1061.5,532.5 1062.5,531.5 1062.5,531.5 1063.5,529.5 1064.5,528.5 1065.5,531.5 1066.5,533.5 1067.5,531.5 1068.5,530.5 1069.5,530.5 1069.5,532.5 1070.5,529.5 1071.5,529.5 1072.5,530.5 1073.5,530.5 1074.5,533.5 1075.5,531.5 1076.5,531.5 1076.5,533.5 1077.5,532.5 1078.5,532.5 1079.5,529.5 1080.5,529.5 1081.5,532.5 1082.5,532.5 1083.5,532.5 1084.5,532.5 1084.5,532.5 1085.5,532.5 1086.5,530.5 1087.5,532.5 1088.5,532.5 1089.5,529.5 1090.5,531.5 1091.5,532.5 1091.5,533.5 1092.5,532.5 1093.5,532.5 1094.5,530.5 1095.5,533.5 1096.5,529.5 1097.5,529.5 1098.5,530.5 1098.5,530.5 1099.5,529.5 1100.5,529.5 1101.5,530.5 1102.5,531.5 1103.5,532.5 1104.5,530.5 1105.5,533.5 1105.5,530.5 1106.5,530.5 1107.5,531.5 1108.5,531.5 1109.5,531.5 1110.5,531.5 1111.5,531.5 1112.5,531.5 1113.5,531.5 1113.5,531.5 1114.5,530.5 1115.5,533.5 1116.5,530.5 1117.5,530.5 1118.5,532.5 1119.5,532.5 1120.5,532.5 1120.5,530.5 1121.5,530.5 1122.5,530.5 1123.5,532.5 1124.5,529.5 1125.5,532.5 1126.5,532.5 1127.5,531.5 1127.5,531.5 1128.5,531.5 1129.5,531.5 1130.5,531.5 1131.5,530.5 1132.5,533.5 1133.5,531.5 1134.5,531.5 1134.5,528.5 1135.5,532.5 1136.5,532.5 1137.5,532.5 1138.5,532.5 1139.5,528.5 1140.5,531.5 1141.5,532.5 1141.5,532.5 1142.5,529.5 1143.5,529.5 1144.5,531.5 1145.5,531.5 1146.5,532.5 1147.5,529.5 1148.5,532.5 1149.5,532.5 1149.5,529.5 1150.5,528.5 1151.5,530.5 1152.5,532.5 1153.5,532.5 1154.5,529.5 1155.5,531.5 1156.5,529.5 1156.5,529.5 1157.5,532.5 1158.5,531.5 1159.5,531.5 1160.5,531.5 1161.5,532.5 1162.5,532.5 1163.5,531.5 1163.5,531.5 1164.5,529.5 1165.5,532.5 1166.5,521.5 1167.5,514.5 1168.5,531.5 1169.5,532.5 1170.5,532.5 1170.5,532.5 1171.5,529.5 1172.5,529.5 1173.5,529.5 1174.5,529.5 1175.5,530.5 1176.5,530.5 1177.5,531.5 1178.5,530.5 1178.5,532.5 1179.5,530.5 1180.5,530.5 1181.5,532.5 1182.5,532.5 1183.5,533.5 1184.5,531.5 1185.5,530.5 1185.5,530.5 1186.5,529.5 1187.5,531.5 1188.5,531.5 1189.5,530.5 1190.5,529.5 1191.5,529.5 1192.5,528.5 1192.5,531.5 1193.5,531.5 1194.5,530.5 1195.5,524.5 1196.5,530.5 1197.5,530.5 1198.5,530.5 1199.5,530.5 1199.5,530.5 1200.5,530.5 1201.5,530.5 1202.5,529.5 1203.5,531.5 1204.5,532.5 1205.5,533.5 1206.5,530.5 1206.5,530.5 1207.5,528.5 1208.5,529.5 1209.5,529.5 1210.5,530.5 1211.5,530.5 1212.5,528.5 1213.5,528.5 1214.5,532.5 1214.5,530.5 1215.5,532.5 1216.5,532.5 1217.5,530.5 1218.5,530.5 1219.5,530.5 1220.5,529.5 1221.5,529.5 1221.5,530.5 1222.5,533.5 1223.5,529.5 1224.5,529.5 1225.5,530.5 1226.5,531.5 1227.5,531.5 1228.5,528.5 1228.5,532.5 1229.5,533.5 1230.5,532.5 1231.5,532.5 1232.5,532.5 1233.5,532.5 1234.5,533.5 1235.5,528.5 1235.5,529.5 1236.5,528.5 1237.5,531.5 1238.5,531.5 1239.5,530.5 1240.5,530.5 1241.5,530.5 1242.5,530.5 1243.5,531.5 1243.5,531.5 1244.5,531.5 1245.5,533.5 1246.5,532.5 1247.5,532.5 1248.5,519.5 1249.5,531.5 1250.5,530.5 1250.5,532.5 1251.5,532.5 1252.5,528.5 1253.5,530.5 1254.5,531.5 1255.5,532.5 1256.5,531.5 1257.5,529.5 1257.5,532.5 1258.5,531.5 1259.5,531.5 1260.5,531.5 1261.5,530.5 1262.5,532.5 1263.5,530.5 1264.5,530.5 1264.5,532.5 1265.5,532.5 1266.5,529.5 1267.5,529.5 1268.5,529.5 1269.5,532.5 1270.5,532.5 1271.5,522.5 1272.5,530.5 1272.5,531.5 1273.5,530.5 1274.5,533.5 1275.5,532.5 1276.5,532.5 1277.5,532.5 1278.5,532.5 1279.5,532.5 1279.5,530.5 1280.5,532.5 1281.5,532.5 1282.5,532.5 1283.5,532.5 1284.5,533.5 1285.5,532.5 1286.5,528.5 1286.5,529.5 1287.5,529.5 1288.5,532.5 1289.5,532.5 1290.5,532.5 1291.5,531.5 1292.5,532.5 1293.5,533.5 1293.5,532.5 1294.5,532.5 1295.5,532.5 1296.5,532.5 1297.5,532.5 1298.5,531.5 1299.5,531.5 1300.5,530.5 1300.5,530.5 1301.5,533.5 1302.5,530.5 1303.5,530.5 1304.5,530.5 1305.5,530.5 1306.5,532.5 1307.5,532.5 1308.5,529.5 1308.5,532.5 1309.5,530.5 1310.5,530.5 1311.5,531.5 1312.5,532.5 1313.5,532.5 1314.5,533.5 1315.5,529.5 1315.5,529.5 1316.5,531.5 1317.5,529.5 1318.5,529.5 1319.5,532.5 1320.5,529.5 1321.5,530.5 1322.5,532.5 1322.5,532.5 1323.5,529.5 1324.5,529.5 1325.5,530.5 1326.5,528.5 1327.5,530.5 1328.5,530.5 1329.5,532.5 1329.5,531.5 1330.5,528.5 1331.5,532.5 1332.5,530.5 1333.5,517.5 1334.5,505.5 1335.5,518.5 1336.5,531.5 1337.5,531.5 1337.5,528.5 1338.5,530.5 1339.5,532.5 1340.5,532.5 1341.5,530.5 1342.5,529.5 1343.5,529.5 1344.5,531.5 1344.5,531.5 1345.5,532.5 1346.5,531.5 1347.5,532.5 1348.5,532.5 1349.5,528.5 1350.5,531.5 1351.5,530.5 1351.5,532.5 1352.5,532.5 1353.5,532.5 1354.5,529.5 1355.5,528.5 1356.5,532.5 1357.5,531.5 1358.5,532.5 1358.5,531.5 1359.5,531.5 1360.5,530.5 1361.5,530.5 1362.5,530.5 1363.5,533.5 1364.5,532.5 1366.5,532.5"/>
<path d="M101 532.5H1366" stroke="#0080ff" stroke-width="1" fill="none" shape-rendering="crispEdges"/>
</g>
<g id="dns" fill="#c8c800" stroke="none" shape-rendering="crispEdges">
<circle cx="103.5" cy="539.5" r="5.9"/><rect x="103.0" y="533.0" width="1" height="13"/>
<circle cx="149.5" cy="539.5" r="5.9"/><rect x="149.0" y="533.0" width="1" height="13"/>
<circle cx="208.5" cy="539.5" r="5.9"/><rect x="208.0" y="533.0" width="1" height="13"/>
<circle cx="255.5" cy="539.5" r="5.9"/><rect x="255.0" y="533.0" width="1" height="13"/>
<circle cx="261.5" cy="539.5" r="5.9"/><rect x="261.0" y="533.0" width="1" height="13"/>
<circle cx="307.5" cy="539.5" r="5.9"/><rect x="307.0" y="533.0" width="1" height="13"/>
<circle cx="314.5" cy="539.5" r="5.9"/><rect x="314.0" y="533.0" width="1" height="13"/>
<circle cx="360.5" cy="539.5" r="5.9"/><rect x="360.0" y="533.0" width="1" height="13"/>
<circle cx="366.5" cy="539.5" r="5.9"/><rect x="366.0" y="533.0" width="1" height="13"/>
<circle cx="413.5" cy="539.5" r="5.9"/><rect x="413.0" y="533.0" width="1" height="13"/>
<circle cx="419.5" cy="539.5" r="5.9"/><rect x="419.0" y="533.0" width="1" height="13"/>
<circle cx="466.5" cy="539.5" r="5.9"/><rect x="466.0" y="533.0" width="1" height="13"/>
<circle cx="472.5" cy="539.5" r="5.9"/><rect x="472.0" y="533.0" width="1" height="13"/>
<circle cx="518.5" cy="539.5" r="5.9"/><rect x="518.0" y="533.0" width="1" height="13"/>
<circle cx="524.5" cy="539.5" r="5.9"/><rect x="524.0" y="533.0" width="1" height="13"/>
<circle cx="571.5" cy="539.5" r="5.9"/><rect x="571.0" y="533.0" width="1" height="13"/>
<circle cx="577.5" cy="539.5" r="5.9"/><rect x="577.0" y="533.0" width="1" height="13"/>
<circle cx="624.5" cy="539.5" r="5.9"/><rect x="624.0" y="533.0" width="1" height="13"/>
<circle cx="630.5" cy="539.5" r="5.9"/><rect x="630.0" y="533.0" width="1" height="13"/>
<circle cx="676.5" cy="539.5" r="5.9"/><rect x="676.0" y="533.0" width="1" height="13"/>
<circle cx="683.5" cy="539.5" r="5.9"/><rect x="683.0" y="533.0" width="1" height="13"/>
<circle cx="729.5" cy="539.5" r="5.9"/><rect x="729.0" y="533.0" width="1" height="13"/>
<circle cx="735.5" cy="539.5" r="5.9"/><rect x="735.0" y="533.0" width="1" height="13"/>
<circle cx="782.5" cy="539.5" r="5.9"/><rect x="782.0" y="533.0" width="1" height="13"/>
<circle cx="788.5" cy="539.5" r="5.9"/><rect x="788.0" y="533.0" width="1" height="13"/>
<circle cx="835.5" cy="539.5" r="5.9"/><rect x="835.0" y="533.0" width="1" height="13"/>
<circle cx="841.5" cy="539.5" r="5.9"/><rect x="841.0" y="533.0" width="1" height="13"/>
<circle cx="887.5" cy="539.5" r="5.9"/><rect x="887.0" y="533.0" width="1" height="13"/>
<circle cx="893.5" cy="539.5" r="5.9"/><rect x="893.0" y="533.0" width="1" height="13"/>
<circle cx="940.5" cy="539.5" r="5.9"/><rect x="940.0" y="533.0" width="1" height="13"/>
<circle cx="946.5" cy="539.5" r="5.9"/><rect x="946.0" y="533.0" width="1" height="13"/>
<circle cx="993.5" cy="539.5" r="5.9"/><rect x="993.0" y="533.0" width="1" height="13"/>
<circle cx="999.5" cy="539.5" r="5.9"/><rect x="999.0" y="533.0" width="1" height="13"/>
<circle cx="1045.5" cy="539.5" r="5.9"/><rect x="1045.0" y="533.0" width="1" height="13"/>
<circle cx="1052.5" cy="539.5" r="5.9"/><rect x="1052.0" y="533.0" width="1" height="13"/>
<circle cx="1098.5" cy="539.5" r="5.9"/><rect x="1098.0" y="533.0" width="1" height="13"/>
<circle cx="1104.5" cy="539.5" r="5.9"/><rect x="1104.0" y="533.0" width="1" height="13"/>
<circle cx="1151.5" cy="539.5" r="5.9"/><rect x="1151.0" y="533.0" width="1" height="13"/>
<circle cx="1157.5" cy="539.5" r="5.9"/><rect x="1157.0" y="533.0" width="1" height="13"/>
<circle cx="1203.5" cy="539.5" r="5.9"/><rect x="1203.0" y="533.0" width="1" height="13"/>
<circle cx="1210.5" cy="539.5" r="5.9"/><rect x="1210.0" y="533.0" width="1" height="13"/>
<circle cx="1256.5" cy="539.5" r="5.9"/><rect x="1256.0" y="533.0" width="1" height="13"/>
<circle cx="1262.5" cy="539.5" r="5.9"/><rect x="1262.0" y="533.0" width="1" height="13"/>
<circle cx="1309.5" cy="539.5" r="5.9"/><rect x="1309.0" y="533.0" width="1" height="13"/>
<circle cx="1315.5" cy="539.5" r="5.9"/><rect x="1315.0" y="533.0" width="1" height="13"/>
<circle cx="1362.5" cy="539.5" r="5.9"/><rect x="1362.0" y="533.0" width="1" height="13"/>
</g>
<g id="curl" fill="none" stroke="#c04000" stroke-width="1.45" shape-rendering="crispEdges">
<circle cx="103.5" cy="505.5" r="5.0"/>
<path d="M98.0 505.5h-1M109.0 505.5h1M103.5 500.0v-1M103.5 511.0v1"/>
<circle cx="149.5" cy="505.5" r="5.0"/>
<path d="M144.0 505.5h-1M155.0 505.5h1M149.5 500.0v-1M149.5 511.0v1"/>
<circle cx="208.5" cy="504.5" r="5.0"/>
<path d="M203.0 504.5h-1M214.0 504.5h1M208.5 499.0v-1M208.5 510.0v1"/>
<circle cx="255.5" cy="503.5" r="5.0"/>
<path d="M250.0 503.5h-1M261.0 503.5h1M255.5 498.0v-1M255.5 509.0v1"/>
<circle cx="261.5" cy="505.5" r="5.0"/>
<path d="M256.0 505.5h-1M267.0 505.5h1M261.5 500.0v-1M261.5 511.0v1"/>
<circle cx="307.5" cy="505.5" r="5.0"/>
<path d="M302.0 505.5h-1M313.0 505.5h1M307.5 500.0v-1M307.5 511.0v1"/>
<circle cx="314.5" cy="504.5" r="5.0"/>
<path d="M309.0 504.5h-1M320.0 504.5h1M314.5 499.0v-1M314.5 510.0v1"/>
<circle cx="360.5" cy="505.5" r="5.0"/>
<path d="M355.0 505.5h-1M366.0 505.5h1M360.5 500.0v-1M360.5 511.0v1"/>
<circle cx="366.5" cy="505.5" r="5.0"/>
<path d="M361.0 505.5h-1M372.0 505.5h1M366.5 500.0v-1M366.5 511.0v1"/>
<circle cx="413.5" cy="506.5" r="5.0"/>
<path d="M408.0 506.5h-1M419.0 506.5h1M413.5 501.0v-1M413.5 512.0v1"/>
<circle cx="419.5" cy="504.5" r="5.0"/>
<path d="M414.0 504.5h-1M425.0 504.5h1M419.5 499.0v-1M419.5 510.0v1"/>
<circle cx="466.5" cy="504.5" r="5.0"/>
<path d="M461.0 504.5h-1M472.0 504.5h1M466.5 499.0v-1M466.5 510.0v1"/>
<circle cx="472.5" cy="504.5" r="5.0"/>
<path d="M467.0 504.5h-1M478.0 504.5h1M472.5 499.0v-1M472.5 510.0v1"/>
<circle cx="518.5" cy="504.5" r="5.0"/>
<path d="M513.0 504.5h-1M524.0 504.5h1M518.5 499.0v-1M518.5 510.0v1"/>
<circle cx="524.5" cy="503.5" r="5.0"/>
<path d="M519.0 503.5h-1M530.0 503.5h1M524.5 498.0v-1M524.5 509.0v1"/>
<circle cx="571.5" cy="496.5" r="5.0"/>
<path d="M566.0 496.5h-1M577.0 496.5h1M571.5 491.0v-1M571.5 502.0v1"/>
<circle cx="577.5" cy="509.5" r="5.0"/>
<path d="M572.0 509.5h-1M583.0 509.5h1M577.5 504.0v-1M577.5 515.0v1"/>
<circle cx="624.5" cy="504.5" r="5.0"/>
<path d="M619.0 504.5h-1M630.0 504.5h1M624.5 499.0v-1M624.5 510.0v1"/>
<circle cx="630.5" cy="504.5" r="5.0"/>
<path d="M625.0 504.5h-1M636.0 504.5h1M630.5 499.0v-1M630.5 510.0v1"/>
<circle cx="676.5" cy="499.5" r="5.0"/>
<path d="M671.0 499.5h-1M682.0 499.5h1M676.5 494.0v-1M676.5 505.0v1"/>
<circle cx="683.5" cy="500.5" r="5.0"/>
<path d="M678.0 500.5h-1M689.0 500.5h1M683.5 495.0v-1M683.5 506.0v1"/>
<circle cx="729.5" cy="491.5" r="5.0"/>
<path d="M724.0 491.5h-1M735.0 491.5h1M729.5 486.0v-1M729.5 497.0v1"/>
<circle cx="735.5" cy="506.5" r="5.0"/>
<path d="M730.0 506.5h-1M741.0 506.5h1M735.5 501.0v-1M735.5 512.0v1"/>
<circle cx="782.5" cy="500.5" r="5.0"/>
<path d="M777.0 500.5h-1M788.0 500.5h1M782.5 495.0v-1M782.5 506.0v1"/>
<circle cx="788.5" cy="489.5" r="5.0"/>
<path d="M783.0 489.5h-1M794.0 489.5h1M788.5 484.0v-1M788.5 495.0v1"/>
<circle cx="835.5" cy="490.5" r="5.0"/>
<path d="M830.0 490.5h-1M841.0 490.5h1M835.5 485.0v-1M835.5 496.0v1"/>
<circle cx="841.5" cy="499.5" r="5.0"/>
<path d="M836.0 499.5h-1M847.0 499.5h1M841.5 494.0v-1M841.5 505.0v1"/>
<circle cx="887.5" cy="502.5" r="5.0"/>
<path d="M882.0 502.5h-1M893.0 502.5h1M887.5 497.0v-1M887.5 508.0v1"/>
<circle cx="893.5" cy="501.5" r="5.0"/>
<path d="M888.0 501.5h-1M899.0 501.5h1M893.5 496.0v-1M893.5 507.0v1"/>
<circle cx="940.5" cy="499.5" r="5.0"/>
<path d="M935.0 499.5h-1M946.0 499.5h1M940.5 494.0v-1M940.5 505.0v1"/>
<circle cx="946.5" cy="490.5" r="5.0"/>
<path d="M941.0 490.5h-1M952.0 490.5h1M946.5 485.0v-1M946.5 496.0v1"/>
<circle cx="993.5" cy="491.5" r="5.0"/>
<path d="M988.0 491.5h-1M999.0 491.5h1M993.5 486.0v-1M993.5 497.0v1"/>
<circle cx="999.5" cy="500.5" r="5.0"/>
<path d="M994.0 500.5h-1M1005.0 500.5h1M999.5 495.0v-1M999.5 506.0v1"/>
<circle cx="1045.5" cy="499.5" r="5.0"/>
<path d="M1040.0 499.5h-1M1051.0 499.5h1M1045.5 494.0v-1M1045.5 505.0v1"/>
<circle cx="1052.5" cy="502.5" r="5.0"/>
<path d="M1047.0 502.5h-1M1058.0 502.5h1M1052.5 497.0v-1M1052.5 508.0v1"/>
<circle cx="1098.5" cy="502.5" r="5.0"/>
<path d="M1093.0 502.5h-1M1104.0 502.5h1M1098.5 497.0v-1M1098.5 508.0v1"/>
<circle cx="1104.5" cy="502.5" r="5.0"/>
<path d="M1099.0 502.5h-1M1110.0 502.5h1M1104.5 497.0v-1M1104.5 508.0v1"/>
<circle cx="1151.5" cy="502.5" r="5.0"/>
<path d="M1146.0 502.5h-1M1157.0 502.5h1M1151.5 497.0v-1M1151.5 508.0v1"/>
<circle cx="1157.5" cy="501.5" r="5.0"/>
<path d="M1152.0 501.5h-1M1163.0 501.5h1M1157.5 496.0v-1M1157.5 507.0v1"/>
<circle cx="1203.5" cy="473.5" r="5.0"/>
<path d="M1198.0 473.5h-1M1209.0 473.5h1M1203.5 468.0v-1M1203.5 479.0v1"/>
<circle cx="1210.5" cy="472.5" r="5.0"/>
<path d="M1205.0 472.5h-1M1216.0 472.5h1M1210.5 467.0v-1M1210.5 478.0v1"/>
<circle cx="1256.5" cy="504.5" r="5.0"/>
<path d="M1251.0 504.5h-1M1262.0 504.5h1M1256.5 499.0v-1M1256.5 510.0v1"/>
<circle cx="1262.5" cy="486.5" r="5.0"/>
<path d="M1257.0 486.5h-1M1268.0 486.5h1M1262.5 481.0v-1M1262.5 492.0v1"/>
<circle cx="1309.5" cy="502.5" r="5.0"/>
<path d="M1304.0 502.5h-1M1315.0 502.5h1M1309.5 497.0v-1M1309.5 508.0v1"/>
<circle cx="1315.5" cy="509.5" r="5.0"/>
<path d="M1310.0 509.5h-1M1321.0 509.5h1M1315.5 504.0v-1M1315.5 515.0v1"/>
<circle cx="1362.5" cy="503.5" r="5.0"/>
<path d="M1357.0 503.5h-1M1368.0 503.5h1M1362.5 498.0v-1M1362.5 509.0v1"/>
</g>
<rect x="101.5" y="57.5" width="1265" height="482" stroke="#000" stroke-width="1" fill="none" shape-rendering="crispEdges"/>
<text x="86.4" y="543.3" text-anchor="end" xml:space="preserve">0</text>
<text x="86.4" y="425.3" text-anchor="end" xml:space="preserve">500</text>
<text x="86.4" y="308.3" text-anchor="end" xml:space="preserve">1000</text>
<text x="86.4" y="190.3" text-anchor="end" xml:space="preserve">1500</text>
<text x="86.4" y="73.3" text-anchor="end" xml:space="preserve">2000</text>
<text x="99.7" y="562.0" text-anchor="middle" xml:space="preserve">00:00</text>
<text x="205.1" y="562.0" text-anchor="middle" xml:space="preserve">02:00</text>
<text x="310.5" y="562.0" text-anchor="middle" xml:space="preserve">04:00</text>
<text x="415.9" y="562.0" text-anchor="middle" xml:space="preserve">06:00</text>
<text x="521.4" y="562.0" text-anchor="middle" xml:space="preserve">08:00</text>
<text x="626.8" y="562.0" text-anchor="middle" xml:space="preserve">10:00</text>
<text x="732.2" y="562.0" text-anchor="middle" xml:space="preserve">12:00</text>
<text x="837.6" y="562.0" text-anchor="middle" xml:space="preserve">14:00</text>
<text x="943.0" y="562.0" text-anchor="middle" xml:space="preserve">16:00</text>
<text x="1048.5" y="562.0" text-anchor="middle" xml:space="preserve">18:00</text>
<text x="1153.9" y="562.0" text-anchor="middle" xml:space="preserve">20:00</text>
<text x="1259.3" y="562.0" text-anchor="middle" xml:space="preserve">22:00</text>
<text x="1364.7" y="562.0" text-anchor="middle" xml:space="preserve">00:00</text>
<text x="732.2" y="31.5" text-anchor="middle" xml:space="preserve" textLength="573.0" lengthAdjust="spacing">pi8 Mar 13  near/far ICMP/TCP ping and curl times [No msmt 1AM-2AM]</text>
<text x="732.8" y="590.0" text-anchor="middle" xml:space="preserve" textLength="813.2" lengthAdjust="spacing">&lt;-START at 2AM Yday, right to 12AM Tday-&gt;, then wrap left to 1AM Tday&lt;- [ignore connecting lines]</text>
<text transform="translate(17,298.8) rotate(-90)" text-anchor="middle" textLength="44.2" lengthAdjust="spacing">msec</text>
<text x="128.8" y="80.0" text-anchor="start" xml:space="preserve" textLength="150.2" lengthAdjust="spacing">{/:Bold GENERAL:}</text>
<text x="128.8" y="100.0" text-anchor="start" xml:space="preserve" textLength="662.7" lengthAdjust="spacing">near ICMP[ping] delays -Ypingresult.txt last hour target 10.100.38.104 hop#4 ---&gt;</text>
<text x="128.8" y="119.2" text-anchor="start" xml:space="preserve" textLength="457.7" lengthAdjust="spacing">TCP ping delays -YTimetcpping.txt- using Top100Web---&gt;</text>
<text x="128.8" y="138.3" text-anchor="start" xml:space="preserve" textLength="542.7" lengthAdjust="spacing">deep ICMP[ping] delays -YCustPingSiteTimes.txt- [X generic rpi]---&gt;</text>
<text x="128.8" y="157.0" text-anchor="start" xml:space="preserve" textLength="458.7" lengthAdjust="spacing">web curl times -Ycurltime.txt- using www.google.com---&gt;</text>
<text x="128.8" y="176.7" text-anchor="start" xml:space="preserve" textLength="528.7" lengthAdjust="spacing">DNS query times -Ycurldnstime.txt- using router? 192.168.1.1---&gt;</text>
<text x="128.8" y="195.5" text-anchor="start" xml:space="preserve" textLength="351.0" lengthAdjust="spacing">Hyperping timeouts -YHPpingresult.txt- ---&gt;</text>
<text x="128.8" y="215.0" text-anchor="start" xml:space="preserve" textLength="283.5" lengthAdjust="spacing">Last rpi boot: 2025-03-01 01:17:21</text>
<text x="212.3" y="235.0" text-anchor="start" xml:space="preserve" textLength="492.5" lengthAdjust="spacing">-DNS query, web curl are twice/hr, beginnng and end of hour</text>
<text x="212.3" y="254.0" text-anchor="start" xml:space="preserve" textLength="554.5" lengthAdjust="spacing">-near,deep ICMP pings are once/min until timeout[1000 msec], then:</text>
<text x="222.3" y="273.3" text-anchor="start" xml:space="preserve" textLength="535.0" lengthAdjust="spacing">-Hyperpings [6/min] initiated; [vertical stacked] ticks are timeouts</text>
<text x="212.3" y="292.3" text-anchor="start" xml:space="preserve" textLength="491.2" lengthAdjust="spacing">-TCP pings are once/min [if plotted][use Ytcpoff for timeouts]</text>
<text x="129.3" y="320.5" text-anchor="start" xml:space="preserve" textLength="168.7" lengthAdjust="spacing">{/:Bold ANOMALIES:}</text>
<text x="216.8" y="340.5" text-anchor="start" xml:space="preserve" textLength="206.2" lengthAdjust="spacing">(850)PingTarget is router!</text>
<text x="216.8" y="360.0" text-anchor="start" xml:space="preserve" textLength="139.2" lengthAdjust="spacing">(785)ipv6 failure!</text>
<text x="216.8" y="379.3" text-anchor="start" xml:space="preserve" textLength="261.7" lengthAdjust="spacing">(500+)Hyperping Timeouts ----&gt;</text>
<text x="216.8" y="398.3" text-anchor="start" xml:space="preserve" textLength="263.5" lengthAdjust="spacing">(1000)Near ICMP Timeout spikes</text>
<text x="216.8" y="417.5" text-anchor="start" xml:space="preserve" textLength="244.7" lengthAdjust="spacing">(550)Ping Target Changes ---&gt;</text>
<text x="216.8" y="436.8" text-anchor="start" xml:space="preserve" textLength="211.7" lengthAdjust="spacing">(450)OFFLINE STATE -----&gt;</text>
<text x="216.8" y="455.8" text-anchor="start" xml:space="preserve" textLength="246.7" lengthAdjust="spacing">(400)Reboot/powercycle? ----&gt;</text>
<text x="216.8" y="475.0" text-anchor="start" xml:space="preserve" textLength="252.2" lengthAdjust="spacing">(320)Deep ICMP Timeouts ----&gt;</text>
<text x="216.8" y="494.5" text-anchor="start" xml:space="preserve" textLength="241.2" lengthAdjust="spacing">(220)TCP ping Timeouts -----&gt;</text>
<path d="M198.5 328.5L214.5 328.5L206.5 340.5Z" fill="none" stroke="#c080ff" stroke-width="1" shape-rendering="crispEdges"/>
<path d="M198.5 347.5L214.5 347.5L206.5 359.5Z" fill="none" stroke="#306080" stroke-width="1" shape-rendering="crispEdges"/>
<path d="M200.0 371.5h13M206.5 365.0v13" fill="none" stroke="#008040" stroke-width="1" shape-rendering="crispEdges"/>
<path d="M198.5 414.5L214.5 414.5L206.5 402.5Z" fill="#ffc020" stroke="#ffc020" stroke-width="1" shape-rendering="crispEdges"/>
<rect x="200.5" y="427.5" width="12" height="12" fill="none" stroke="#c000ff" stroke-width="1" shape-rendering="crispEdges"/>
<path d="M198.5 468.5L214.5 468.5L206.5 456.5Z" fill="none" stroke="#4169e1" stroke-width="1" shape-rendering="crispEdges"/>
<rect x="200.5" y="481.5" width="12" height="12" fill="#00eeee" stroke="#00eeee" stroke-width="1" shape-rendering="crispEdges"/>
<text x="1274.6" y="75.7" text-anchor="end" xml:space="preserve" textLength="211.7" lengthAdjust="spacing">"Ypingresult.txt" using 1:2</text>
<path d="M1288 72.5H1345" stroke="#ff0000" shape-rendering="crispEdges"/>
<text x="1274.6" y="94.7" text-anchor="end" xml:space="preserve" textLength="230.9" lengthAdjust="spacing">"YTimetcpping.txt" using 1:2</text>
<path d="M1288 91.5H1345" stroke="#00c000" shape-rendering="crispEdges"/>
<text x="1274.6" y="113.7" text-anchor="end" xml:space="preserve" textLength="279.1" lengthAdjust="spacing">"YCustPingSiteTimes.txt" using 1:2</text>
<path d="M1288 110.5H1345" stroke="#0080ff" shape-rendering="crispEdges"/>
<text x="1274.6" y="132.7" text-anchor="end" xml:space="preserve" textLength="224.5" lengthAdjust="spacing">"Yofflineresult.txt" using 1:2</text>
<rect x="1310.5" y="123.5" width="12" height="12" fill="none" stroke="#c000ff" stroke-width="1" shape-rendering="crispEdges"/>
<text x="1274.6" y="151.7" text-anchor="end" xml:space="preserve" textLength="236.8" lengthAdjust="spacing">"Ytcpoff_record.txt" using 1:2</text>
<rect x="1310.5" y="142.5" width="12" height="12" fill="#00eeee" stroke="#00eeee" stroke-width="1" shape-rendering="crispEdges"/>
<text x="1274.6" y="170.7" text-anchor="end" xml:space="preserve" textLength="197.6" lengthAdjust="spacing">"Ycurltime.txt" using 1:2</text>
<g fill="none" stroke="#c04000" shape-rendering="crispEdges">
<circle cx="1316.5" cy="167.5" r="5.0"/>
<path d="M1311.0 167.5h-1M1322.0 167.5h1M1316.5 162.0v-1M1316.5 173.0v1"/>
</g>
<text x="1274.6" y="189.7" text-anchor="end" xml:space="preserve" textLength="226.4" lengthAdjust="spacing">"Ycurldnstime.txt" using 1:2</text>
<g fill="#c8c800" stroke="none" shape-rendering="crispEdges">
<circle cx="1316.5" cy="186.5" r="5.9"/><rect x="1316.0" y="180.0" width="1" height="13"/>
</g>
<text x="1274.6" y="208.7" text-anchor="end" xml:space="preserve" textLength="266.3" lengthAdjust="spacing">"YCustPingTimeout.txt" using 1:2</text>
<path d="M1308.5 209.5L1324.5 209.5L1316.5 197.5Z" fill="none" stroke="#4169e1" stroke-width="1" shape-rendering="crispEdges"/>
<text x="1274.6" y="227.7" text-anchor="end" xml:space="preserve" textLength="247.1" lengthAdjust="spacing">"Ypingtargetchange" using 1:2</text>
<path d="M1308.5 228.5L1324.5 228.5L1316.5 216.5Z" fill="#ffc020" stroke="#ffc020" stroke-width="1" shape-rendering="crispEdges"/>
<text x="1274.6" y="246.7" text-anchor="end" xml:space="preserve" textLength="233.5" lengthAdjust="spacing">"YHPpingresult.txt" using 1:2</text>
<path d="M1310.0 243.5h13M1316.5 237.0v13" fill="none" stroke="#008040" stroke-width="1" shape-rendering="crispEdges"/>
<text x="1274.6" y="265.7" text-anchor="end" xml:space="preserve" textLength="251.9" lengthAdjust="spacing">"YpingtargetISrouter" using 1:2</text>
<path d="M1308.5 258.5L1324.5 258.5L1316.5 270.5Z" fill="none" stroke="#c080ff" stroke-width="1" shape-rendering="crispEdges"/>
<text x="1274.6" y="284.7" text-anchor="end" xml:space="preserve" textLength="158.4" lengthAdjust="spacing">"Ynoipv6" using 1:2</text>
<path d="M1308.5 277.5L1324.5 277.5L1316.5 289.5Z" fill="none" stroke="#306080" stroke-width="1" shape-rendering="crispEdges"/>
</svg></body></html>
